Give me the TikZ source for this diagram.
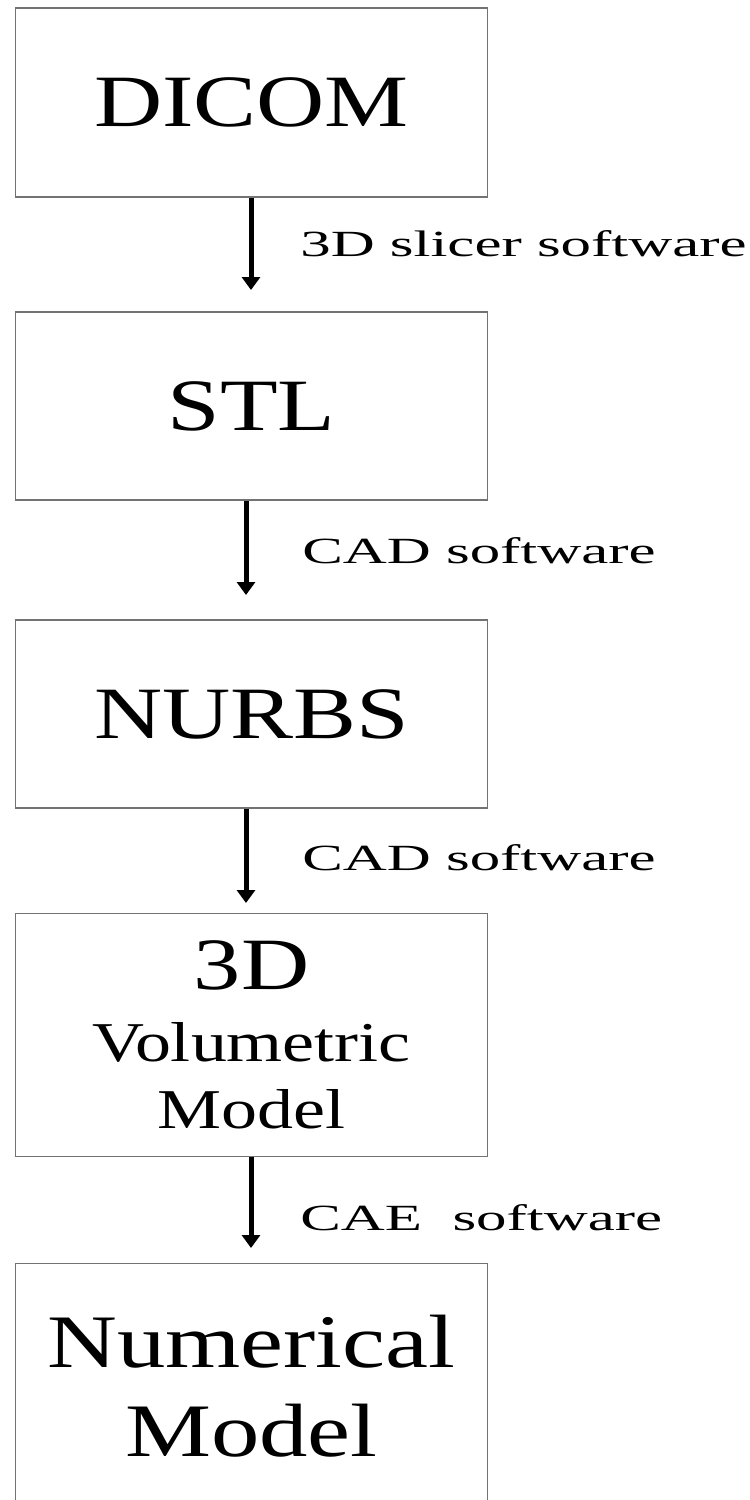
\documentclass[tikz,border=0pt]{standalone}
\usepackage{fontspec}
\setmainfont{Liberation Serif}
\newfontfamily\boxfont[FakeStretch=1.28]{Liberation Serif}
\newfontfamily\stepfont[FakeStretch=1.65]{Liberation Serif}
\usetikzlibrary{arrows.meta}

\begin{document}
\begin{tikzpicture}[x=0.02cm,y=-0.02cm,
  stage/.style={draw=black!55, line width=0.6pt, minimum width=9.46cm, inner sep=0pt,
    align=center, font=\boxfont\fontsize{42}{50}\selectfont},
  flow/.style={line width=0.1cm, -{Triangle[length=0.26cm,width=0.36cm]}},
  tool/.style={anchor=base west, inner sep=0pt, font=\stepfont\fontsize{21}{25}\selectfont}]

\useasboundingbox (0,0) rectangle (750,1500);

%stadi
\node[stage, minimum height=3.78cm] (dicom) at (251.5,102.5) {DICOM};
\node[stage, minimum height=3.76cm] (stl) at (251.5,406) {STL};
\node[stage, minimum height=3.76cm] (nurbs) at (251.5,714) {NURBS};
\node[stage, minimum height=4.86cm, font=\boxfont\fontsize{32}{38}\selectfont] (volmodel) at (251.5,1035)
  {{\fontsize{42}{38}\selectfont 3D}\\[3pt]Volumetric\\Model};
\node[stage, minimum height=4.92cm, font=\boxfont\fontsize{43}{50.5}\selectfont] (nummodel) at (251.5,1386)
  {Numerical\\Model};

%frecce
\coordinate (t1) at (251,290);
\coordinate (t2) at (246,595);
\coordinate (t3) at (246,903);
\coordinate (t4) at (251,1248);

\draw[flow] (dicom.south -| t1) -- (t1);
\draw[flow] (stl.south -| t2) -- (t2);
\draw[flow] (nurbs.south -| t3) -- (t3);
\draw[flow] (volmodel.south -| t4) -- (t4);

%software
\node[tool] (slicer) at (300,257) {3D slicer software};
\node[tool] (cadone) at (302,563) {CAD software};
\node[tool] (cadtwo) at (302,870) {CAD software};
\node[tool] (cae) at (300,1230) {CAE~~software};

\end{tikzpicture}
\end{document}
